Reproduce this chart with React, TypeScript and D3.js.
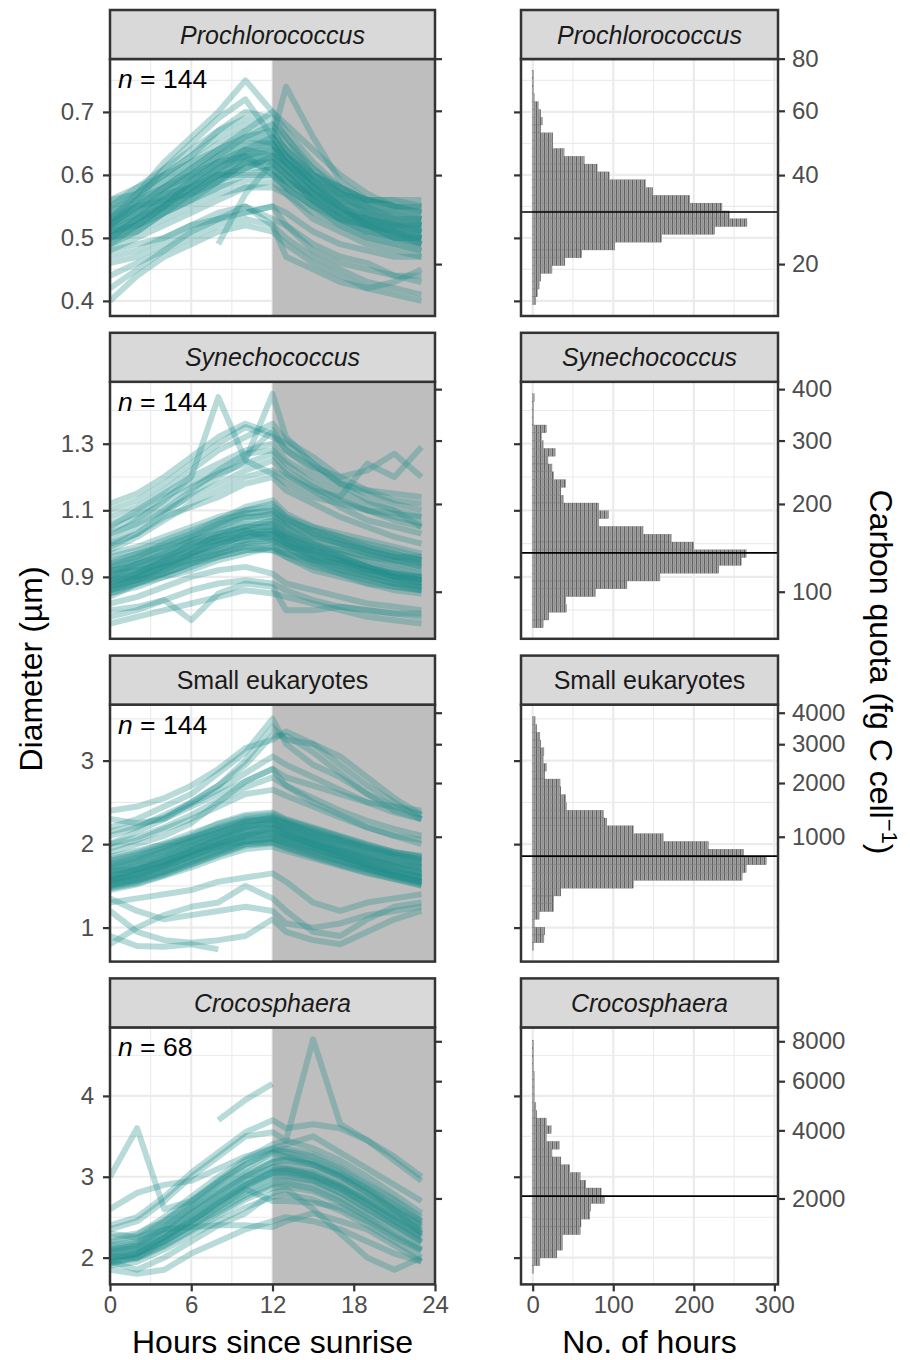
import React, { useEffect, useRef } from 'react';
import * as d3 from 'd3';

const HOURS = [0, 2, 4, 6, 8, 10, 12, 13, 15, 17, 19, 21, 23];

const TITLES = ['Prochlorococcus', 'Synechococcus', 'Small eukaryotes', 'Crocosphaera'];
const ITALIC = [true, true, false, true];
const N_CELLS = [144, 144, 144, 68];

const DIAM_LIMITS = [[0.376, 0.784], [0.714, 1.486], [0.593, 3.671], [1.669, 4.847]];
const DIAM_TICKS = [[0.4, 0.5, 0.6, 0.7], [0.9, 1.1, 1.3], [1, 2, 3], [2, 3, 4]];
const DIAM_MINOR = [[0.45, 0.55, 0.65, 0.75], [0.8, 1.0, 1.2, 1.4], [1.5, 2.5, 3.5], [2.5, 3.5, 4.5]];
const CARBON_TICKS = [[20, 40, 60, 80], [100, 200, 300, 400], [1000, 2000, 3000, 4000], [2000, 4000, 6000, 8000]];
const HOUR_TICKS = [0, 6, 12, 18, 24];
const HOUR_MINOR = [3, 9, 15, 21];
const COUNT_TICKS = [0, 100, 200, 300];
const COUNT_MINOR = [50, 150, 250];

// histogram: 30 bins between these diameters, counts listed from the largest bin down
const HIST_RANGE = [[0.394, 0.766], [0.747, 1.45], [0.725, 3.527], [1.804, 4.687]];
const MEDIAN_DIAM = [0.541, 0.972, 1.856, 2.761];
const PRO_HIST = [1, 1, 1, 2, 7, 10, 12, 10, 25, 25, 39, 64, 80, 95, 140, 149, 195, 235, 244, 266, 226, 160, 102, 61, 40, 24, 10, 8, 6, 4];
const SYN_HIST = [2, 1, 1, 1, 17, 11, 13, 28, 19, 24, 26, 41, 35, 38, 82, 94, 82, 137, 172, 200, 265, 259, 231, 158, 117, 78, 41, 42, 20, 13];
const EUK_HIST = [3, 5, 9, 10, 14, 13, 17, 15, 34, 35, 41, 42, 88, 92, 125, 162, 218, 262, 290, 265, 260, 125, 35, 26, 26, 8, 2, 15, 14, 1];
const CRO_HIST = [1, 1, 1, 1, 2, 2, 2, 2, 4, 5, 17, 23, 17, 33, 24, 35, 46, 59, 66, 85, 89, 72, 71, 60, 59, 37, 37, 30, 9, 1];

type Trace = (number | null)[];

const PRO_LINES: Trace[] = [
  [0.49, 0.51, 0.53, 0.55, 0.57, 0.58, 0.58, 0.57, 0.54, 0.52, 0.50, 0.49, 0.48],
  [0.50, 0.52, 0.54, 0.56, 0.58, 0.60, 0.60, 0.58, 0.55, 0.53, 0.51, 0.50, 0.49],
  [0.51, 0.53, 0.55, 0.57, 0.59, 0.61, 0.61, 0.59, 0.56, 0.54, 0.52, 0.51, 0.50],
  [0.52, 0.54, 0.56, 0.58, 0.60, 0.62, 0.62, 0.60, 0.57, 0.55, 0.53, 0.52, 0.51],
  [0.53, 0.55, 0.57, 0.59, 0.61, 0.63, 0.63, 0.61, 0.58, 0.56, 0.54, 0.53, 0.52],
  [0.54, 0.56, 0.58, 0.60, 0.62, 0.64, 0.64, 0.62, 0.59, 0.57, 0.55, 0.54, 0.53],
  [0.55, 0.57, 0.59, 0.61, 0.63, 0.65, 0.65, 0.63, 0.60, 0.58, 0.56, 0.55, 0.54],
  [0.50, 0.51, 0.54, 0.57, 0.59, 0.61, 0.63, 0.61, 0.57, 0.54, 0.52, 0.51, 0.50],
  [0.52, 0.53, 0.55, 0.59, 0.62, 0.64, 0.65, 0.62, 0.58, 0.55, 0.53, 0.52, 0.52],
  [0.51, 0.54, 0.57, 0.58, 0.61, 0.63, 0.60, 0.59, 0.57, 0.54, 0.53, 0.51, 0.50],
  [0.53, 0.54, 0.56, 0.57, 0.60, 0.61, 0.63, 0.62, 0.59, 0.56, 0.54, 0.53, 0.53],
  [0.49, 0.52, 0.55, 0.58, 0.60, 0.60, 0.61, 0.58, 0.55, 0.53, 0.51, 0.50, 0.50],
  [0.54, 0.55, 0.58, 0.61, 0.64, 0.66, 0.67, 0.64, 0.60, 0.57, 0.55, 0.54, 0.53],
  [0.52, 0.55, 0.57, 0.60, 0.63, 0.66, 0.68, 0.66, 0.61, 0.57, 0.54, 0.52, 0.51],
  [0.50, 0.53, 0.55, 0.57, 0.59, 0.62, 0.64, 0.63, 0.58, 0.55, 0.52, 0.51, 0.49],
  [0.55, 0.56, 0.59, 0.62, 0.65, 0.67, 0.66, 0.63, 0.59, 0.57, 0.56, 0.55, 0.54],
  [0.51, 0.52, 0.54, 0.56, 0.59, 0.62, 0.62, 0.60, 0.56, 0.53, 0.52, 0.51, 0.51],
  [0.53, 0.56, 0.58, 0.60, 0.62, 0.63, 0.64, 0.61, 0.57, 0.55, 0.53, 0.52, 0.52],
  [0.48, 0.50, 0.52, 0.54, 0.56, 0.58, 0.59, 0.57, 0.53, 0.51, 0.49, 0.48, 0.47],
  [0.50, 0.53, 0.56, 0.59, 0.61, 0.63, 0.62, 0.60, 0.56, 0.53, 0.51, 0.50, 0.49],
  [0.52, 0.54, 0.57, 0.60, 0.63, 0.65, 0.66, 0.63, 0.59, 0.56, 0.54, 0.53, 0.52],
  [0.54, 0.57, 0.60, 0.63, 0.66, 0.68, 0.67, 0.64, 0.60, 0.58, 0.56, 0.55, 0.54],
  [0.51, 0.52, 0.55, 0.58, 0.61, 0.64, 0.66, 0.64, 0.59, 0.55, 0.52, 0.50, 0.49],
  [0.53, 0.55, 0.56, 0.58, 0.60, 0.62, 0.61, 0.59, 0.56, 0.54, 0.53, 0.52, 0.51],
  [0.55, 0.58, 0.61, 0.64, 0.67, 0.69, 0.68, 0.65, 0.61, 0.58, 0.56, 0.55, 0.55],
  [0.49, 0.51, 0.54, 0.56, 0.58, 0.59, 0.60, 0.58, 0.55, 0.52, 0.50, 0.49, 0.48],
  [0.52, 0.55, 0.58, 0.61, 0.64, 0.67, 0.70, 0.67, 0.62, 0.58, 0.55, 0.53, 0.52],
  [0.51, 0.53, 0.56, 0.59, 0.62, 0.64, 0.63, 0.61, 0.57, 0.55, 0.53, 0.52, 0.51],
  [0.56, 0.57, 0.60, 0.62, 0.64, 0.66, 0.65, 0.62, 0.58, 0.56, 0.55, 0.54, 0.53],
  [0.50, 0.52, 0.55, 0.57, 0.60, 0.63, 0.65, 0.62, 0.58, 0.54, 0.52, 0.50, 0.50],
  [0.53, 0.57, 0.62, 0.66, 0.70, 0.75, 0.70, 0.68, 0.64, 0.60, 0.57, 0.55, 0.55],
  [0.52, 0.56, 0.61, 0.65, 0.69, 0.72, 0.66, 0.74, 0.66, 0.59, 0.56, 0.56, 0.56],
  [0.56, 0.58, 0.60, 0.63, 0.67, 0.70, 0.69, 0.66, 0.60, 0.57, 0.56, 0.56, 0.55],
  [0.47, 0.48, 0.50, 0.52, 0.54, 0.55, 0.53, 0.52, 0.48, 0.46, 0.45, 0.44, 0.43],
  [0.44, 0.46, 0.48, 0.50, 0.52, 0.53, 0.52, 0.50, 0.47, 0.45, 0.43, 0.42, 0.41],
  [0.40, 0.44, 0.47, 0.49, 0.51, 0.52, 0.51, 0.49, 0.46, 0.44, 0.42, 0.41, 0.40],
  [0.46, 0.47, 0.49, 0.51, 0.53, 0.54, 0.55, 0.52, 0.49, 0.47, 0.46, 0.44, 0.44],
  [0.48, 0.49, 0.50, 0.52, 0.53, 0.54, 0.55, 0.54, 0.51, 0.49, 0.48, 0.47, 0.47],
  [null, null, null, null, 0.49, 0.57, 0.62, 0.60, 0.56, 0.53, 0.52, 0.51, 0.50],
  [0.42, 0.45, 0.48, 0.51, 0.53, 0.55, 0.52, 0.47, 0.45, 0.43, 0.42, 0.43, 0.45],
];

const SYN_LINES: Trace[] = [
  [0.86, 0.89, 0.92, 0.95, 0.98, 1.00, 1.00, 0.98, 0.95, 0.93, 0.91, 0.89, 0.87],
  [0.88, 0.91, 0.94, 0.97, 1.00, 1.02, 1.02, 1.00, 0.97, 0.95, 0.93, 0.91, 0.89],
  [0.90, 0.93, 0.96, 0.99, 1.02, 1.04, 1.04, 1.02, 0.99, 0.97, 0.95, 0.93, 0.91],
  [0.92, 0.95, 0.98, 1.01, 1.04, 1.06, 1.06, 1.04, 1.01, 0.99, 0.97, 0.95, 0.93],
  [0.94, 0.97, 1.00, 1.03, 1.06, 1.08, 1.08, 1.06, 1.03, 1.01, 0.99, 0.97, 0.95],
  [0.85, 0.87, 0.90, 0.93, 0.96, 0.98, 0.98, 0.96, 0.93, 0.91, 0.89, 0.87, 0.86],
  [0.87, 0.90, 0.92, 0.96, 0.99, 1.03, 1.05, 1.01, 0.96, 0.94, 0.91, 0.89, 0.88],
  [0.91, 0.92, 0.95, 0.98, 1.03, 1.07, 1.09, 1.05, 1.00, 0.97, 0.94, 0.92, 0.90],
  [0.89, 0.91, 0.95, 1.00, 1.02, 1.04, 1.01, 0.99, 0.98, 0.96, 0.93, 0.90, 0.88],
  [0.93, 0.96, 0.99, 1.02, 1.05, 1.09, 1.10, 1.07, 1.04, 1.01, 0.98, 0.96, 0.94],
  [0.84, 0.88, 0.91, 0.94, 0.97, 0.99, 1.01, 0.99, 0.94, 0.91, 0.88, 0.86, 0.85],
  [0.95, 0.97, 0.99, 1.02, 1.06, 1.10, 1.12, 1.08, 1.03, 1.00, 0.98, 0.96, 0.96],
  [0.88, 0.90, 0.93, 0.95, 0.97, 0.99, 0.98, 0.97, 0.95, 0.94, 0.92, 0.90, 0.89],
  [0.90, 0.94, 0.97, 1.01, 1.03, 1.05, 1.07, 1.03, 1.00, 0.96, 0.93, 0.90, 0.90],
  [0.86, 0.88, 0.90, 0.92, 0.95, 0.97, 0.99, 0.96, 0.92, 0.90, 0.88, 0.87, 0.86],
  [0.92, 0.93, 0.96, 0.99, 1.01, 1.02, 1.03, 1.02, 0.99, 0.98, 0.96, 0.95, 0.94],
  [0.97, 0.99, 1.02, 1.05, 1.08, 1.10, 1.11, 1.08, 1.05, 1.03, 1.01, 0.99, 0.97],
  [0.89, 0.92, 0.94, 0.97, 1.00, 1.03, 1.03, 1.01, 0.98, 0.95, 0.92, 0.91, 0.90],
  [0.87, 0.89, 0.93, 0.96, 0.99, 1.01, 1.02, 1.00, 0.96, 0.94, 0.92, 0.90, 0.88],
  [0.91, 0.94, 0.97, 1.00, 1.03, 1.05, 1.05, 1.03, 1.00, 0.98, 0.96, 0.94, 0.92],
  [0.85, 0.88, 0.91, 0.94, 0.96, 0.98, 0.99, 0.97, 0.94, 0.92, 0.90, 0.88, 0.86],
  [0.93, 0.95, 0.98, 1.01, 1.05, 1.08, 1.09, 1.06, 1.02, 1.00, 0.98, 0.96, 0.95],
  [0.89, 0.90, 0.93, 0.97, 1.01, 1.04, 1.06, 1.03, 0.98, 0.95, 0.92, 0.90, 0.89],
  [0.96, 0.98, 1.01, 1.04, 1.07, 1.09, 1.10, 1.07, 1.04, 1.02, 1.00, 0.98, 0.96],
  [0.88, 0.91, 0.95, 0.98, 1.01, 1.03, 1.04, 1.02, 0.98, 0.96, 0.93, 0.91, 0.89],
  [0.90, 0.92, 0.94, 0.97, 1.00, 1.02, 1.04, 1.01, 0.97, 0.95, 0.93, 0.91, 0.90],
  [0.86, 0.90, 0.93, 0.96, 0.98, 1.01, 1.03, 1.00, 0.96, 0.93, 0.90, 0.88, 0.87],
  [0.94, 0.96, 1.00, 1.03, 1.07, 1.11, 1.13, 1.09, 1.05, 1.02, 0.99, 0.97, 0.95],
  [0.92, 0.94, 0.96, 0.99, 1.02, 1.05, 1.07, 1.05, 1.02, 1.00, 0.97, 0.95, 0.93],
  [0.87, 0.89, 0.91, 0.94, 0.97, 1.00, 1.01, 0.99, 0.95, 0.92, 0.90, 0.88, 0.87],
  [1.05, 1.10, 1.15, 1.20, 1.24, 1.28, 1.30, 1.25, 1.20, 1.16, 1.12, 1.10, 1.08],
  [1.10, 1.13, 1.18, 1.24, 1.30, 1.35, 1.32, 1.30, 1.24, 1.18, 1.15, 1.12, 1.10],
  [1.02, 1.07, 1.13, 1.20, 1.44, 1.25, 1.45, 1.32, 1.24, 1.18, 1.13, 1.10, 1.05],
  [1.06, 1.09, 1.14, 1.18, 1.22, 1.26, 1.34, 1.28, 1.23, 1.20, 1.22, 1.27, 1.20],
  [0.98, 1.02, 1.07, 1.12, 1.16, 1.20, 1.22, 1.20, 1.16, 1.14, 1.24, 1.20, 1.29],
  [1.00, 1.03, 1.08, 1.11, 1.14, 1.18, 1.20, 1.16, 1.12, 1.08, 1.05, 1.02, 1.00],
  [1.03, 1.06, 1.10, 1.14, 1.18, 1.22, 1.25, 1.21, 1.16, 1.11, 1.07, 1.05, 1.03],
  [1.00, 1.05, 1.10, 1.16, 1.22, 1.27, 1.28, 1.24, 1.18, 1.14, 1.10, 1.07, 1.05],
  [1.08, 1.11, 1.16, 1.22, 1.28, 1.32, 1.36, 1.31, 1.26, 1.20, 1.16, 1.13, 1.12],
  [1.04, 1.08, 1.12, 1.17, 1.21, 1.24, 1.27, 1.22, 1.17, 1.13, 1.10, 1.08, 1.06],
  [0.99, 1.03, 1.09, 1.15, 1.20, 1.25, 1.21, 1.18, 1.14, 1.12, 1.10, 1.09, 1.08],
  [1.12, 1.15, 1.20, 1.26, 1.32, 1.36, 1.33, 1.28, 1.22, 1.18, 1.16, 1.15, 1.14],
  [0.80, 0.81, 0.83, 0.86, 0.88, 0.89, 0.88, 0.86, 0.83, 0.81, 0.80, 0.79, 0.78],
  [0.76, 0.78, 0.80, 0.82, 0.84, 0.86, 0.85, 0.84, 0.82, 0.80, 0.78, 0.77, 0.76],
  [0.78, 0.80, 0.83, 0.77, 0.85, 0.88, 0.87, 0.80, 0.80, 0.81, 0.80, 0.79, 0.79],
  [0.82, 0.84, 0.87, 0.90, 0.92, 0.93, 0.91, 0.88, 0.86, 0.84, 0.82, 0.81, 0.80],
];

const EUK_LINES: Trace[] = [
  [1.50, 1.58, 1.68, 1.80, 1.92, 2.02, 2.05, 2.00, 1.90, 1.80, 1.70, 1.62, 1.55],
  [1.55, 1.63, 1.73, 1.85, 1.97, 2.07, 2.10, 2.05, 1.95, 1.85, 1.75, 1.67, 1.60],
  [1.60, 1.68, 1.78, 1.90, 2.02, 2.12, 2.15, 2.10, 2.00, 1.90, 1.80, 1.72, 1.65],
  [1.65, 1.73, 1.83, 1.95, 2.07, 2.17, 2.20, 2.15, 2.05, 1.95, 1.85, 1.77, 1.70],
  [1.70, 1.78, 1.88, 2.00, 2.12, 2.22, 2.25, 2.20, 2.10, 2.00, 1.90, 1.82, 1.75],
  [1.75, 1.83, 1.93, 2.05, 2.17, 2.27, 2.30, 2.25, 2.15, 2.05, 1.95, 1.87, 1.80],
  [1.45, 1.52, 1.62, 1.72, 1.84, 1.94, 1.97, 1.92, 1.83, 1.74, 1.65, 1.58, 1.50],
  [1.80, 1.88, 1.98, 2.10, 2.25, 2.35, 2.38, 2.30, 2.20, 2.10, 2.00, 1.90, 1.85],
  [1.58, 1.62, 1.75, 1.92, 2.05, 2.20, 2.28, 2.15, 2.02, 1.88, 1.76, 1.66, 1.60],
  [1.68, 1.70, 1.80, 1.90, 2.00, 2.10, 2.12, 2.08, 2.00, 1.92, 1.82, 1.76, 1.72],
  [1.52, 1.60, 1.72, 1.86, 1.99, 2.10, 2.20, 2.12, 1.98, 1.86, 1.74, 1.64, 1.55],
  [1.62, 1.70, 1.84, 1.98, 2.10, 2.22, 2.24, 2.18, 2.06, 1.94, 1.84, 1.74, 1.66],
  [1.85, 1.92, 2.00, 2.08, 2.18, 2.28, 2.30, 2.22, 2.12, 2.04, 1.96, 1.90, 1.86],
  [1.48, 1.55, 1.64, 1.76, 1.88, 2.00, 2.02, 1.96, 1.86, 1.76, 1.68, 1.60, 1.52],
  [1.72, 1.80, 1.92, 2.04, 2.14, 2.26, 2.32, 2.26, 2.12, 2.02, 1.92, 1.84, 1.78],
  [1.57, 1.66, 1.76, 1.87, 1.96, 2.04, 2.06, 2.02, 1.94, 1.84, 1.74, 1.66, 1.58],
  [1.78, 1.86, 1.96, 2.08, 2.20, 2.30, 2.34, 2.28, 2.18, 2.08, 1.98, 1.88, 1.82],
  [1.54, 1.60, 1.70, 1.82, 1.94, 2.05, 2.08, 2.03, 1.93, 1.83, 1.72, 1.63, 1.56],
  [1.52, 1.57, 1.66, 1.78, 1.90, 2.00, 2.03, 1.98, 1.88, 1.79, 1.70, 1.61, 1.54],
  [1.66, 1.74, 1.85, 1.97, 2.09, 2.19, 2.22, 2.17, 2.07, 1.97, 1.87, 1.79, 1.72],
  [1.73, 1.81, 1.91, 2.03, 2.15, 2.25, 2.28, 2.23, 2.13, 2.03, 1.93, 1.85, 1.78],
  [1.58, 1.65, 1.75, 1.88, 2.00, 2.11, 2.14, 2.09, 1.99, 1.89, 1.78, 1.69, 1.62],
  [1.63, 1.70, 1.80, 1.93, 2.06, 2.16, 2.18, 2.12, 2.03, 1.93, 1.83, 1.74, 1.67],
  [1.47, 1.53, 1.63, 1.75, 1.87, 1.98, 2.01, 1.95, 1.85, 1.75, 1.66, 1.58, 1.51],
  [1.82, 1.90, 2.01, 2.13, 2.24, 2.33, 2.36, 2.29, 2.19, 2.09, 1.99, 1.91, 1.84],
  [1.69, 1.76, 1.86, 1.98, 2.10, 2.20, 2.24, 2.19, 2.08, 1.98, 1.88, 1.80, 1.73],
  [1.56, 1.64, 1.74, 1.85, 1.98, 2.09, 2.12, 2.06, 1.96, 1.86, 1.76, 1.68, 1.60],
  [1.76, 1.84, 1.95, 2.06, 2.18, 2.28, 2.31, 2.26, 2.16, 2.06, 1.96, 1.88, 1.81],
  [1.61, 1.69, 1.79, 1.91, 2.03, 2.14, 2.17, 2.11, 2.01, 1.91, 1.81, 1.73, 1.64],
  [1.50, 1.56, 1.67, 1.79, 1.91, 2.03, 2.07, 2.01, 1.91, 1.81, 1.71, 1.62, 1.54],
  [2.00, 2.08, 2.20, 2.35, 2.52, 2.68, 2.80, 2.70, 2.55, 2.40, 2.28, 2.18, 2.10],
  [1.95, 2.05, 2.18, 2.30, 2.45, 2.60, 2.65, 2.58, 2.45, 2.32, 2.20, 2.10, 2.00],
  [2.15, 2.22, 2.32, 2.48, 2.65, 2.85, 3.05, 2.95, 2.80, 2.65, 2.50, 2.38, 2.30],
  [2.10, 2.20, 2.35, 2.50, 2.70, 2.95, 3.30, 3.30, 3.10, 2.85, 2.60, 2.40, 2.30],
  [2.20, 2.30, 2.45, 2.60, 2.85, 3.10, 3.50, 3.20, 2.95, 2.80, 2.60, 2.45, 2.35],
  [2.00, 2.15, 2.30, 2.50, 2.70, 3.00, 3.40, 3.25, 3.20, 3.05, 2.80, 2.55, 2.35],
  [2.30, 2.25, 2.30, 2.45, 2.60, 2.75, 2.90, 2.80, 2.70, 2.60, 2.50, 2.45, 2.40],
  [1.90, 2.00, 2.10, 2.25, 2.50, 2.75, 2.90, 2.70, 2.50, 2.35, 2.20, 2.10, 2.05],
  [2.40, 2.45, 2.55, 2.70, 2.90, 3.15, 3.25, 3.35, 3.20, 2.95, 2.70, 2.50, 2.30],
  [1.30, 1.35, 1.40, 1.45, 1.55, 1.60, 1.65, 1.55, 1.30, 1.20, 1.30, 1.35, 1.40],
  [1.20, 0.95, 0.85, 0.82, 0.85, 0.90, 1.10, 0.95, 0.85, 0.80, 0.95, 1.10, 1.20],
  [0.80, 1.00, 1.15, 1.25, 1.30, 1.50, 1.35, 1.20, 0.95, 0.90, 1.10, 1.25, 1.30],
  [1.35, 1.20, 1.10, 1.15, 1.20, 1.25, 1.20, 1.05, 1.00, 1.05, 1.15, 1.20, 1.25],
  [0.90, 0.78, 0.77, 0.80, 0.74, null, null, null, null, null, null, null, null],
];

const CRO_LINES: Trace[] = [
  [1.95, 2.00, 2.15, 2.35, 2.55, 2.75, 2.90, 2.92, 2.85, 2.70, 2.50, 2.30, 2.10],
  [2.00, 2.05, 2.20, 2.42, 2.62, 2.82, 2.98, 3.00, 2.95, 2.80, 2.60, 2.40, 2.20],
  [2.05, 2.10, 2.28, 2.50, 2.72, 2.92, 3.08, 3.10, 3.05, 2.90, 2.70, 2.50, 2.30],
  [2.10, 2.15, 2.35, 2.58, 2.80, 3.00, 3.18, 3.20, 3.15, 3.00, 2.80, 2.58, 2.38],
  [1.90, 1.95, 2.10, 2.28, 2.45, 2.62, 2.75, 2.78, 2.72, 2.58, 2.40, 2.20, 2.00],
  [2.15, 2.20, 2.42, 2.65, 2.90, 3.10, 3.30, 3.32, 3.25, 3.10, 2.90, 2.70, 2.45],
  [2.20, 2.28, 2.50, 2.75, 3.00, 3.22, 3.40, 3.45, 3.35, 3.20, 3.00, 2.78, 2.55],
  [1.98, 2.05, 2.25, 2.45, 2.68, 2.88, 3.05, 3.05, 2.98, 2.85, 2.65, 2.45, 2.25],
  [2.02, 2.00, 2.20, 2.38, 2.62, 2.85, 2.70, 2.70, 2.68, 2.62, 2.45, 2.25, 2.10],
  [2.08, 2.12, 2.30, 2.55, 2.78, 3.00, 3.12, 3.10, 3.02, 2.88, 2.72, 2.52, 2.35],
  [1.92, 2.02, 2.18, 2.40, 2.58, 2.78, 2.92, 2.95, 2.90, 2.75, 2.55, 2.38, 2.18],
  [2.25, 2.30, 2.45, 2.68, 2.92, 3.15, 3.30, 3.25, 3.15, 3.02, 2.85, 2.65, 2.45],
  [2.12, 2.18, 2.38, 2.62, 2.85, 3.05, 3.22, 3.25, 3.18, 3.02, 2.82, 2.62, 2.42],
  [1.96, 2.04, 2.22, 2.45, 2.66, 2.86, 3.00, 3.02, 2.96, 2.80, 2.60, 2.40, 2.20],
  [2.03, 2.08, 2.25, 2.48, 2.70, 2.90, 3.05, 3.07, 3.00, 2.86, 2.66, 2.46, 2.26],
  [2.07, 2.13, 2.32, 2.55, 2.76, 2.96, 3.12, 3.14, 3.08, 2.93, 2.74, 2.54, 2.33],
  [1.94, 1.99, 2.14, 2.33, 2.52, 2.72, 2.86, 2.88, 2.82, 2.68, 2.48, 2.28, 2.08],
  [2.18, 2.24, 2.45, 2.70, 2.94, 3.15, 3.32, 3.35, 3.28, 3.12, 2.92, 2.72, 2.50],
  [2.00, 2.06, 2.24, 2.46, 2.68, 2.90, 3.06, 3.08, 3.02, 2.88, 2.68, 2.48, 2.28],
  [2.10, 2.16, 2.36, 2.60, 2.82, 3.02, 3.18, 3.22, 3.15, 3.00, 2.80, 2.60, 2.40],
  [3.00, 3.60, 2.60, 2.70, 2.95, 3.20, 3.35, 3.40, 3.50, 3.30, 3.10, 2.90, 2.70],
  [2.40, 2.50, 2.75, 3.05, 3.30, 3.55, 3.70, 3.60, 3.65, 3.60, 3.45, 3.25, 3.00],
  [2.35, 2.45, 2.70, 3.00, 3.25, 3.50, 3.55, 3.45, 4.70, 3.65, 3.45, 3.20, 2.95],
  [null, null, null, null, 3.70, 3.95, 4.15, null, null, null, null, null, null],
  [2.30, 2.25, 2.35, 2.38, 2.40, 2.40, 2.38, 2.45, 2.55, 2.45, 2.35, 2.15, 1.95],
  [1.85, 1.80, 1.85, 2.05, 2.20, 2.35, 2.45, 2.50, 2.45, 2.35, 2.20, 2.05, 1.95],
  [2.60, 2.80, 2.90, 2.95, 3.10, 3.25, 3.35, 3.30, 3.20, 3.05, 2.85, 2.60, 2.30],
  [1.95, 1.85, 2.00, 2.20, 2.40, 2.55, 2.80, 2.85, 2.60, 2.30, 2.00, 1.85, 2.00],
];

const LINES = [PRO_LINES, SYN_LINES, EUK_LINES, CRO_LINES];
const HISTS = [PRO_HIST, SYN_HIST, EUK_HIST, CRO_HIST];

// carbon quota (fg C) -> cell diameter (um), volume-to-carbon conversion used by the secondary axis
const toDiam = (c: number) => Math.cbrt((6 / Math.PI) * Math.pow(c / 261, 1 / 0.86));

const FONT = "'Liberation Sans', Arial, Helvetica, sans-serif";

function styleAxis(g: any, showText: boolean) {
  g.attr('font-family', FONT).attr('font-size', 24);
  g.select('.domain').remove();
  g.selectAll('.tick line').attr('stroke', '#333333').attr('stroke-width', 2.2);
  g.selectAll('.tick text').attr('fill', '#4d4d4d').style('display', showText ? null : 'none');
}

export default function App() {
  const ref = useRef<SVGSVGElement>(null);

  useEffect(() => {
    const svg = d3.select(ref.current);
    svg.selectAll('*').remove();
    svg.attr('font-family', FONT);

    const defs = svg.append('defs');
    const pat = defs.append('pattern')
      .attr('id', 'stripes')
      .attr('patternUnits', 'userSpaceOnUse')
      .attr('width', 4)
      .attr('height', 10);
    pat.append('rect').attr('width', 4).attr('height', 10).attr('fill', '#a2a2a2');
    pat.append('rect').attr('width', 0.8).attr('height', 10).attr('fill', '#4f4f4f');
    pat.append('rect').attr('x', 2.4).attr('width', 0.5).attr('height', 10).attr('fill', '#777777');

    const leftX0 = 110, leftX1 = 435, rightX0 = 521, rightX1 = 778;
    const xL = d3.scaleLinear().domain([0, 24]).range([leftX0, leftX1]);
    const xR = d3.scaleLinear().domain([-14.5, 304.5]).range([rightX0, rightX1]);
    const teal = '#21908c';
    const gridCol = '#ebebeb';

    LINES.forEach((lines, i) => {
      const top = 10 + i * 322.8;
      const stripH = 49;
      const pTop = top + stripH;
      const pH = 257;
      const pBot = pTop + pH;
      const y = d3.scaleLinear().domain(DIAM_LIMITS[i]).range([pBot, pTop]);
      const carbonPos = CARBON_TICKS[i].map(toDiam);

      const clipId = 'clip-' + i;
      defs.append('clipPath').attr('id', clipId)
        .append('rect').attr('x', leftX0).attr('y', pTop).attr('width', leftX1 - leftX0).attr('height', pH);
      const clipIdR = 'clipR-' + i;
      defs.append('clipPath').attr('id', clipIdR)
        .append('rect').attr('x', rightX0).attr('y', pTop).attr('width', rightX1 - rightX0).attr('height', pH);

      // ---------- left panel: diel traces ----------
      const gl = svg.append('g');
      gl.append('rect').attr('x', leftX0).attr('y', pTop).attr('width', leftX1 - leftX0).attr('height', pH).attr('fill', 'white');
      const gridL = gl.append('g').attr('clip-path', `url(#${clipId})`);
      gridL.selectAll('.hmin').data(DIAM_MINOR[i]).enter().append('line')
        .attr('x1', leftX0).attr('x2', leftX1).attr('y1', d => y(d)).attr('y2', d => y(d))
        .attr('stroke', gridCol).attr('stroke-width', 1.1);
      gridL.selectAll('.vmin').data(HOUR_MINOR).enter().append('line')
        .attr('x1', d => xL(d)).attr('x2', d => xL(d)).attr('y1', pTop).attr('y2', pBot)
        .attr('stroke', gridCol).attr('stroke-width', 1.1);
      gridL.selectAll('.hmaj').data(DIAM_TICKS[i]).enter().append('line')
        .attr('x1', leftX0).attr('x2', leftX1).attr('y1', d => y(d)).attr('y2', d => y(d))
        .attr('stroke', gridCol).attr('stroke-width', 2.2);
      gridL.selectAll('.vmaj').data(HOUR_TICKS).enter().append('line')
        .attr('x1', d => xL(d)).attr('x2', d => xL(d)).attr('y1', pTop).attr('y2', pBot)
        .attr('stroke', gridCol).attr('stroke-width', 2.2);

      // night shading
      gl.append('rect').attr('x', xL(12)).attr('y', pTop).attr('width', xL(24) - xL(12)).attr('height', pH)
        .attr('fill', '#bebebe');

      const line = d3.line<number | null>()
        .defined(v => v !== null)
        .x((_, k) => xL(HOURS[k]))
        .y(v => y(v as number));
      gl.append('g').attr('clip-path', `url(#${clipId})`)
        .selectAll('path').data(lines).enter().append('path')
        .attr('d', d => line(d))
        .attr('fill', 'none')
        .attr('stroke', teal)
        .attr('stroke-opacity', 0.32)
        .attr('stroke-width', 6)
        .attr('stroke-linejoin', 'round');

      const nt = gl.append('text').attr('x', leftX0 + 8).attr('y', pTop + 29)
        .attr('font-size', 26.5).attr('fill', 'black');
      nt.append('tspan').attr('font-style', 'italic').text('n');
      nt.append('tspan').text(' = ' + N_CELLS[i]);

      gl.append('rect').attr('x', leftX0).attr('y', pTop).attr('width', leftX1 - leftX0).attr('height', pH)
        .attr('fill', 'none').attr('stroke', '#333333').attr('stroke-width', 2.5);

      // ---------- right panel: histogram ----------
      const gr = svg.append('g');
      gr.append('rect').attr('x', rightX0).attr('y', pTop).attr('width', rightX1 - rightX0).attr('height', pH).attr('fill', 'white');
      const gridR = gr.append('g').attr('clip-path', `url(#${clipIdR})`);
      gridR.selectAll('.hmin').data(DIAM_MINOR[i]).enter().append('line')
        .attr('x1', rightX0).attr('x2', rightX1).attr('y1', d => y(d)).attr('y2', d => y(d))
        .attr('stroke', gridCol).attr('stroke-width', 1.1);
      gridR.selectAll('.vmin').data(COUNT_MINOR).enter().append('line')
        .attr('x1', d => xR(d)).attr('x2', d => xR(d)).attr('y1', pTop).attr('y2', pBot)
        .attr('stroke', gridCol).attr('stroke-width', 1.1);
      gridR.selectAll('.hmaj').data(DIAM_TICKS[i]).enter().append('line')
        .attr('x1', rightX0).attr('x2', rightX1).attr('y1', d => y(d)).attr('y2', d => y(d))
        .attr('stroke', gridCol).attr('stroke-width', 2.2);
      gridR.selectAll('.vmaj').data(COUNT_TICKS).enter().append('line')
        .attr('x1', d => xR(d)).attr('x2', d => xR(d)).attr('y1', pTop).attr('y2', pBot)
        .attr('stroke', gridCol).attr('stroke-width', 2.2);

      const [hLo, hHi] = HIST_RANGE[i];
      const counts = HISTS[i];
      const bw = (hHi - hLo) / counts.length;
      gr.append('g').attr('clip-path', `url(#${clipIdR})`)
        .selectAll('rect').data(counts).enter().append('rect')
        .attr('x', xR(0))
        .attr('y', (_, k) => y(hHi - k * bw))
        .attr('width', d => xR(d) - xR(0))
        .attr('height', (_, k) => y(hHi - (k + 1) * bw) - y(hHi - k * bw))
        .attr('fill', 'url(#stripes)')
        .attr('stroke', '#6a6a6a')
        .attr('stroke-width', 0.3);

      gr.append('line')
        .attr('x1', rightX0).attr('x2', rightX1)
        .attr('y1', y(MEDIAN_DIAM[i])).attr('y2', y(MEDIAN_DIAM[i]))
        .attr('stroke', 'black').attr('stroke-width', 1.6);

      gr.append('rect').attr('x', rightX0).attr('y', pTop).attr('width', rightX1 - rightX0).attr('height', pH)
        .attr('fill', 'none').attr('stroke', '#333333').attr('stroke-width', 2.5);

      // ---------- strips ----------
      [[leftX0, leftX1], [rightX0, rightX1]].forEach(([a, b]) => {
        svg.append('rect').attr('x', a).attr('y', top).attr('width', b - a).attr('height', stripH)
          .attr('fill', '#d9d9d9').attr('stroke', '#333333').attr('stroke-width', 2.5);
        svg.append('text')
          .attr('x', (a + b) / 2).attr('y', top + stripH / 2).attr('dy', '0.36em')
          .attr('text-anchor', 'middle').attr('font-size', 25).attr('fill', '#1a1a1a')
          .attr('font-style', ITALIC[i] ? 'italic' : 'normal')
          .text(TITLES[i]);
      });

      // ---------- axes ----------
      const axL = svg.append('g').attr('transform', `translate(${leftX0},0)`)
        .call(d3.axisLeft(y).tickValues(DIAM_TICKS[i]).tickSize(7).tickPadding(9).tickFormat(d => String(d)));
      styleAxis(axL, true);
      const axL2 = svg.append('g').attr('transform', `translate(${leftX1},0)`)
        .call(d3.axisRight(y).tickValues(carbonPos).tickSize(7).tickFormat(() => ''));
      styleAxis(axL2, false);
      const axR1 = svg.append('g').attr('transform', `translate(${rightX0},0)`)
        .call(d3.axisLeft(y).tickValues(DIAM_TICKS[i]).tickSize(7).tickFormat(() => ''));
      styleAxis(axR1, false);
      const axR2 = svg.append('g').attr('transform', `translate(${rightX1},0)`)
        .call(d3.axisRight(y).tickValues(carbonPos).tickSize(7).tickPadding(7)
          .tickFormat((_, k) => String(CARBON_TICKS[i][k])));
      styleAxis(axR2, true);

      if (i === LINES.length - 1) {
        const axB1 = svg.append('g').attr('transform', `translate(0,${pBot})`)
          .call(d3.axisBottom(xL).tickValues(HOUR_TICKS).tickSize(7).tickPadding(5).tickFormat(d => String(d)));
        styleAxis(axB1, true);
        const axB2 = svg.append('g').attr('transform', `translate(0,${pBot})`)
          .call(d3.axisBottom(xR).tickValues(COUNT_TICKS).tickSize(7).tickPadding(5).tickFormat(d => String(d)));
        styleAxis(axB2, true);
      }
    });

    // ---------- axis titles ----------
    svg.append('text').attr('x', (leftX0 + leftX1) / 2).attr('y', 1353)
      .attr('text-anchor', 'middle').attr('font-size', 32).attr('fill', 'black')
      .text('Hours since sunrise');
    svg.append('text').attr('x', (rightX0 + rightX1) / 2).attr('y', 1353)
      .attr('text-anchor', 'middle').attr('font-size', 32).attr('fill', 'black')
      .text('No. of hours');
    svg.append('text').attr('transform', 'translate(42,669) rotate(-90)')
      .attr('text-anchor', 'middle').attr('font-size', 32).attr('fill', 'black')
      .text('Diameter (\u00b5m)');
    const ct = svg.append('text').attr('transform', 'translate(870,672) rotate(90)')
      .attr('text-anchor', 'middle').attr('font-size', 32).attr('fill', 'black');
    ct.append('tspan').text('Carbon quota (fg C cell');
    ct.append('tspan').attr('font-size', 22).attr('dy', -12).text('\u22121');
    ct.append('tspan').attr('dy', 12).text(')');
  }, []);

  return (
    <svg
      ref={ref}
      width={910}
      height={1360}
      style={{ position: 'absolute', left: 0, top: 0, background: 'white' }}
    />
  );
}
